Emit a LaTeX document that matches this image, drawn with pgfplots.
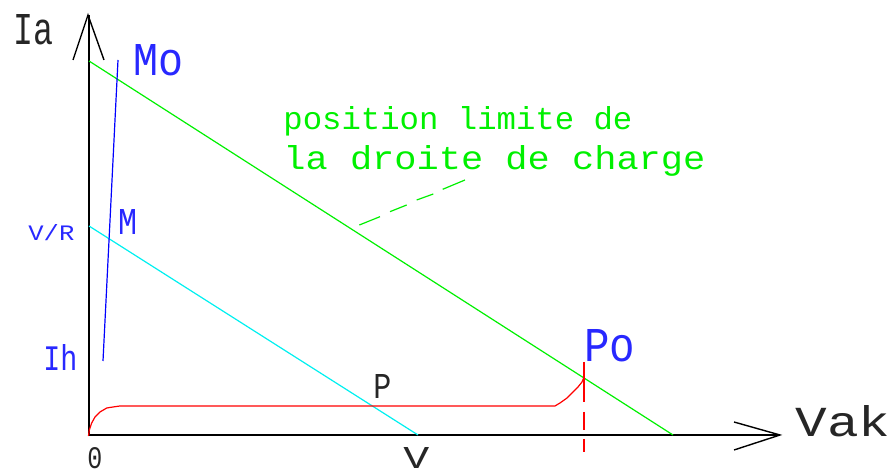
\documentclass[border=0pt]{standalone}
\usepackage{pgfplots}
\pgfplotsset{compat=1.18}
\usepackage{fontspec}
\usepackage{graphicx}
\newfontfamily\cad{Liberation Mono}
\newcommand{\ct}[3]{\resizebox{#1pt}{#2pt}{\cad #3}}
\definecolor{cblue}{RGB}{40,40,255}
\definecolor{cgreen}{RGB}{0,240,0}
\definecolor{ccyan}{RGB}{0,240,240}
\definecolor{cred}{RGB}{255,0,0}
\begin{document}
\begin{tikzpicture}
\begin{axis}[
  scale only axis, width=445pt, height=237.5pt,
  xmin=0, xmax=890, ymin=0, ymax=475,
  hide axis, clip=false,
]
% axes
\addplot[black, line width=0.8pt] coordinates {(89,40) (89,460)};
\addplot[black, line width=0.7pt] coordinates {(73,415) (88,460) (104,415)};
\addplot[black, line width=0.8pt] coordinates {(89,40) (780,40)};
\addplot[black, line width=0.7pt] coordinates {(734,53) (780,40) (734,25)};
% load lines
\addplot[cgreen, line width=0.6pt] coordinates {(89,414) (673,40)};
\addplot[ccyan, line width=0.6pt] coordinates {(89,249) (418,40)};
% blue line
\addplot[blue, line width=0.6pt] coordinates {(103,114) (118,415)};
% red characteristic
\addplot[cred, line width=0.6pt] coordinates {(88.5,39) (89.3,45) (91.7,52) (95,58) (100,63) (106.7,67) (113,68) (120,69) (555,69) (560,72) (567,77) (573,83) (578,88) (582,93) (584,98)};
% red dashed vertical
\addplot[cred, line width=0.6pt] coordinates {(584,113) (584,73)};
\addplot[cred, line width=0.6pt] coordinates {(584,63) (584,45)};
\addplot[cred, line width=0.6pt] coordinates {(584,36) (584,23)};
% green leader dashes
\addplot[cgreen, line width=0.6pt] coordinates {(359.3,250) (380,258.3)};
\addplot[cgreen, line width=0.6pt] coordinates {(390,263.3) (406.7,270)};
\addplot[cgreen, line width=0.6pt] coordinates {(416.7,275) (433.3,281)};
\addplot[cgreen, line width=0.6pt] coordinates {(442.7,285.7) (465,295)};
% labels
\node[anchor=base west, inner sep=0, text=black!85] at (axis cs:13,430) {\ct{20}{15}{Ia}};
\node[anchor=base west, inner sep=0, text=cblue] at (axis cs:133,399) {\ct{25}{15.5}{Mo}};
\node[anchor=base west, inner sep=0, text=cblue] at (axis cs:118,240) {\ct{9.5}{12.5}{M}};
\node[anchor=base west, inner sep=0, text=cblue] at (axis cs:28,234) {\ct{23}{8}{V/R}};
\node[anchor=base west, inner sep=0, text=cblue] at (axis cs:43,104) {\ct{17}{13}{Ih}};
\node[anchor=base west, inner sep=0, text=black!85] at (axis cs:373,76) {\ct{9}{12}{P}};
\node[anchor=base west, inner sep=0, text=black!85] at (axis cs:403,6) {\ct{13}{10.5}{V}};
\node[anchor=base west, inner sep=0, text=black!85] at (axis cs:87,6) {\ct{7.5}{10.5}{0}};
\node[anchor=base west, inner sep=0, text=cblue] at (axis cs:584,113) {\ct{25.5}{16}{Po}};
\node[anchor=base west, inner sep=0, text=black!85] at (axis cs:795,38) {\ct{47.5}{15.5}{Vak}};
\node[anchor=base west, inner sep=0, text=cgreen] at (axis cs:283,345) {\ct{174.5}{11.5}{position limite de}};
\node[anchor=base west, inner sep=0, text=cgreen] at (axis cs:283,305) {\ct{211}{12}{la droite de charge}};
\end{axis}
\pgfresetboundingbox
\path (current axis.south west) rectangle (current axis.north east);
\end{tikzpicture}
\end{document}
